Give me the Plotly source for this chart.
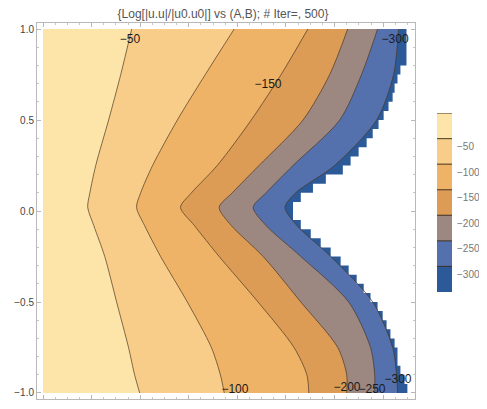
import numpy as np
import plotly.graph_objects as go

title_text = "{Log[|u.u|/|u0.u0|] vs (A,B); # Iter=, 500}"

# contour levels and band colours (band 0 = above -50, band 6 = below -300)
levels = [-50, -100, -150, -200, -250, -300]
band_colors = ["#fde4a9", "#f7cd89", "#efb367", "#dc9c56", "#9c8781", "#5571ad", "#2c5a98"]

# sampled B positions shared by every contour line
B_samples = [1.0, 0.75, 0.5, 0.25, 0.1, 0.02, -0.08, -0.25, -0.5, -0.75, -0.9, -1.0]

# A position of each contour line at the B samples
A_m50 = [0.365, 0.320, 0.270, 0.217, 0.193, 0.184, 0.209, 0.254, 0.303, 0.352, 0.377, 0.398]
A_m100 = [0.787, 0.668, 0.553, 0.451, 0.402, 0.385, 0.418, 0.484, 0.594, 0.693, 0.730, 0.746]
A_m150 = [1.090, 0.980, 0.857, 0.717, 0.611, 0.566, 0.623, 0.725, 0.885, 1.033, 1.086, 1.094]
A_m200 = [1.254, 1.180, 1.070, 0.889, 0.779, 0.725, 0.775, 0.906, 1.061, 1.213, 1.250, 1.250]
A_m250 = [1.377, 1.311, 1.221, 1.029, 0.918, 0.865, 0.918, 1.061, 1.258, 1.348, 1.365, 1.365]
A_m300 = [1.463, 1.443, 1.373, 1.200, 1.040, 0.996, 1.045, 1.184, 1.357, 1.439, 1.455, 1.459]

# plot domain
A_domain = [0.0, 1.5]
B_domain = [-1.0, 1.0]

# edge of computed region (grid steps of 0.05 in B, from B=1 down to B=-1)
B_grid = [round(v, 3) for v in np.linspace(1.0, -1.0, 41)]
white_edge = [1.496, 1.496, 1.496, 1.496, 1.471, 1.459, 1.447, 1.439, 1.422, 1.402,
              1.381, 1.357, 1.332, 1.299, 1.266, 1.234, 1.164, 1.111, 1.061, 1.029,
              1.029, 1.061, 1.102, 1.143, 1.184, 1.225, 1.258, 1.291, 1.320, 1.348,
              1.377, 1.398, 1.414, 1.430, 1.447, 1.459, 1.459, 1.471, 1.488, 1.500]

# contour labels
label_text = ["−50", "−150", "−300", "−100", "−200", "−250", "−300"]
label_A = [0.358, 0.926, 1.449, 0.790, 1.251, 1.354, 1.461]
label_B = [0.94, 0.692, 0.94, -0.984, -0.973, -0.984, -0.929]

# legend labels
legend_labels = ["−50", "−100", "−150", "−200", "−250", "−300"]

lines = [A_m50, A_m100, A_m150, A_m200, A_m250, A_m300]

fig = go.Figure()

# band 0: whole domain
fig.add_trace(go.Scatter(
    x=[A_domain[0], A_domain[1], A_domain[1], A_domain[0]],
    y=[B_domain[1], B_domain[1], B_domain[0], B_domain[0]],
    fill="toself", fillcolor=band_colors[0], mode="none",
    hoverinfo="skip", showlegend=False))

# each further band: region between its contour line and the right edge
for k, la in enumerate(lines):
    fig.add_trace(go.Scatter(x=[A_domain[1], A_domain[1]], y=[B_domain[1], B_domain[0]],
                             mode="lines", line=dict(width=0), hoverinfo="skip",
                             showlegend=False))
    fig.add_trace(go.Scatter(x=la, y=B_samples, fill="tonextx", fillcolor=band_colors[k + 1],
                             mode="lines", line=dict(width=0, shape="spline", smoothing=0.8),
                             hoverinfo="skip", showlegend=False))

# blank region beyond the computed edge (staircase)
wx, wy = [], []
for i, w in enumerate(white_edge):
    wx += [w, w]
    wy += [B_grid[i], B_grid[i + 1]]
wx += [A_domain[1] + 0.004, A_domain[1] + 0.004]
wy += [B_domain[0], B_domain[1]]
fig.add_trace(go.Scatter(x=wx, y=wy, fill="toself", fillcolor="white", mode="none",
                         hoverinfo="skip", showlegend=False))

# contour lines
for la in lines:
    fig.add_trace(go.Scatter(x=la, y=B_samples, mode="lines",
                             line=dict(color="rgba(70,50,30,0.75)", width=0.9,
                                       shape="spline", smoothing=0.8),
                             hoverinfo="skip", showlegend=False))

# contour labels
fig.add_trace(go.Scatter(x=label_A, y=label_B, mode="text", text=label_text,
                         textfont=dict(family="Liberation Sans, Arial", size=12, color="#1a1a1a"),
                         hoverinfo="skip", showlegend=False))

# legend bar (xaxis2/yaxis2)
n = len(band_colors)
fig.add_trace(go.Bar(x=[0] * n, y=[1] * n, base=list(range(n)),
                     marker=dict(color=band_colors[::-1], line=dict(width=0)),
                     width=1, xaxis="x2", yaxis="y2", hoverinfo="skip", showlegend=False))
bx, by = [], []
for k in range(1, n + 1):
    bx += [-0.5, 0.5, None]
    by += [k, k, None]
fig.add_trace(go.Scatter(x=bx, y=by, mode="lines", xaxis="x2", yaxis="y2",
                         line=dict(color="rgba(60,45,30,0.8)", width=1.2),
                         hoverinfo="skip", showlegend=False))

tick_font = dict(family="Liberation Sans, Arial", size=10, color="#444")
axis_common = dict(showline=True, linecolor="#b8b8b8", linewidth=1, mirror="allticks",
                   ticks="inside", ticklen=4, tickcolor="#b8b8b8", showgrid=False,
                   zeroline=False, tickfont=tick_font, automargin=False)

# the page keeps an 8px body margin, so the figure is sized so the page is 487x409
fig.update_layout(
    width=471, height=393,
    margin=dict(l=29, r=0, t=15, b=2, autoexpand=False),
    paper_bgcolor="white", plot_bgcolor="white",
    title=dict(text=title_text, x=0.4565, xanchor="center", y=0.9847, yanchor="middle",
               font=dict(family="Liberation Sans, Arial", size=12, color="#555")),
    xaxis=dict(domain=[0, 0.8552], range=[-0.0247, 1.531],
               tickvals=[0, 0.2, 0.4, 0.6, 0.8, 1.0, 1.2, 1.4],
               ticktext=["0.0", "0.2", "0.4", "0.6", "0.8", "1.0", "1.2", "1.4"],
               ticklabeloverflow="allow",
               minor=dict(ticks="inside", ticklen=2, dtick=0.05, tickcolor="#c8c8c8"),
               **axis_common),
    yaxis=dict(domain=[0, 1], range=[-1.033, 1.033], tickvals=[-1, -0.5, 0, 0.5, 1],
               ticktext=["−1.0", "−0.5", "0.0", "0.5", "1.0"],
               minor=dict(ticks="inside", ticklen=2, dtick=0.1, tickcolor="#c8c8c8"),
               **axis_common),
    xaxis2=dict(domain=[0.905, 0.9389], range=[-0.5, 0.5], visible=False, anchor="y2"),
    yaxis2=dict(domain=[0.2846, 0.7606], range=[0, n], anchor="x2", side="right",
                tickvals=[k - 0.31 for k in range(n - 1, 0, -1)], ticktext=legend_labels,
                ticks="outside", ticklen=2, tickcolor="rgba(0,0,0,0)", showline=False,
                showgrid=False, zeroline=False, automargin=False,
                tickfont=dict(family="Liberation Sans, Arial", size=10, color="#777")),
    bargap=0,
)

fig.write_html("out.html", config={"displayModeBar": False})
